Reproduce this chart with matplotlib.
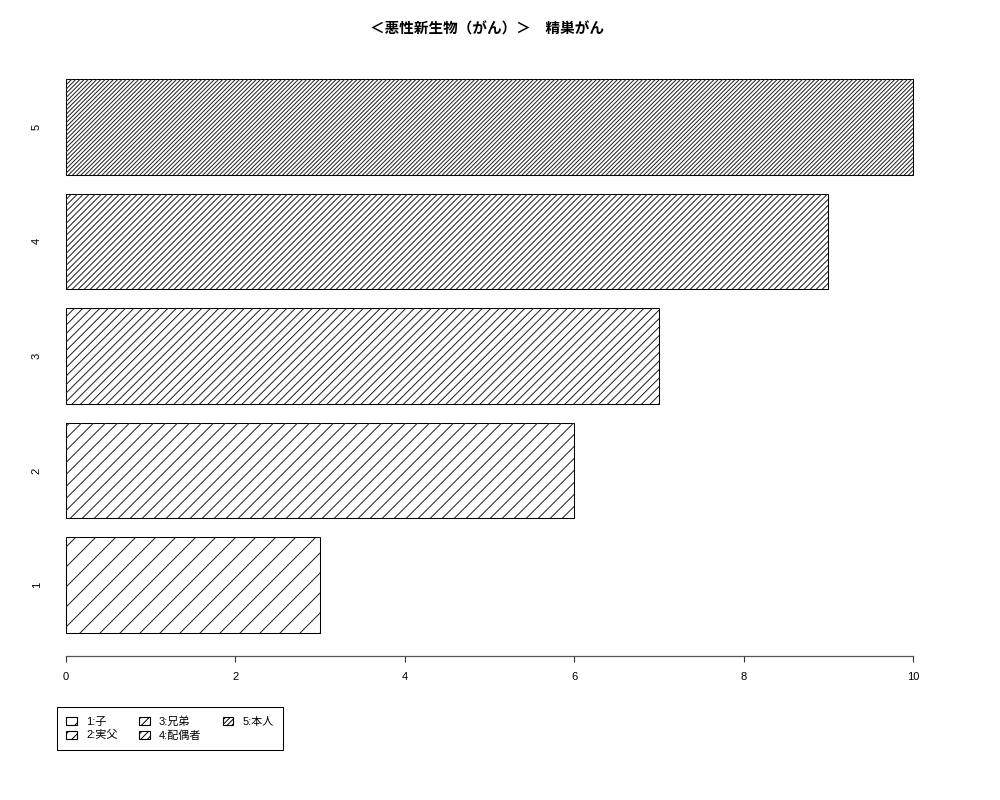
import matplotlib
matplotlib.use('Agg')
import matplotlib.pyplot as plt
from matplotlib.patches import Patch
from matplotlib.collections import LineCollection
from matplotlib.transforms import IdentityTransform
import numpy as np

plt.rcParams['font.family'] = ['Liberation Sans', 'Noto Sans CJK JP', 'DejaVu Sans']
plt.rcParams['hatch.linewidth'] = 0.7

# ---- data ----
categories = ['1', '2', '3', '4', '5']
values = [3, 6, 7, 9, 10]
legend_labels = ['1:子', '2:実父', '3:兄弟', '4:配偶者', '5:本人']
x_ticks = [0, 2, 4, 6, 8, 10]
title = '＜悪性新生物（がん）＞　精巣がん'

# ---- style ----
hatch_spacing_px = [20, 12, 8.5, 6, 4.2]
legend_hatches = ['//', '///', '////', '/////', '///////']

W, H, DPI = 1000, 800, 100
fig = plt.figure(figsize=(W / DPI, H / DPI), dpi=DPI)
ax = fig.add_axes([32 / W, 1 - 656 / H, (947 - 32) / W, 600 / H])

centers = [0.7 + 1.2 * i for i in range(len(values))]
ax.set_xlim(-0.4, 10.4)
ax.set_ylim(-0.0408, 6.2408)

bars = ax.barh(centers, values, height=1.0, left=0, color='white',
               edgecolor='black', linewidth=0.75, zorder=2)

# R-style density hatching: 45-degree lines in device space, clipped to bars
for bar, s in zip(bars, hatch_spacing_px):
    x0 = bar.get_x(); y0 = bar.get_y()
    x1 = x0 + bar.get_width(); y1 = y0 + bar.get_height()
    (px0, py0), (px1, py1) = ax.transData.transform([(x0, y0), (x1, y1)])
    cmin = py0 - px1
    cmax = py1 - px0
    cs = np.arange(cmin, cmax + s, s)
    segs = [[(py0 - c - 2, py0 - 2), (py1 - c + 2, py1 + 2)] for c in cs]
    lc = LineCollection(segs, colors='#222222', linewidths=0.72,
                        transform=IdentityTransform(), zorder=3)
    ax.add_collection(lc, autolim=False)
    lc.set_clip_path(bar)

# axes styling
for sp in ['top', 'right', 'left']:
    ax.spines[sp].set_visible(False)
ax.spines['bottom'].set_bounds(0, 10)
ax.spines['bottom'].set_color('#555555')
ax.spines['bottom'].set_linewidth(0.9)
ax.set_xticks(x_ticks)
ax.set_xticklabels([str(t) for t in x_ticks], fontsize=8)
ax.tick_params(axis='x', length=4.3, width=0.8, color='#333333', pad=7)
ax.set_yticks(centers)
ax.set_yticklabels(categories, fontsize=8, rotation=90, va='center')
ax.tick_params(axis='y', length=0, pad=-7)

fig.text(487 / W, 1 - 29 / H, title, ha='center', va='center',
         fontsize=10.5, fontweight='bold')

handles = [Patch(facecolor='white', edgecolor='black', hatch=h, linewidth=0.8)
           for h in legend_hatches]
leg = fig.legend(handles, legend_labels, ncol=3, loc='upper left',
                 bbox_to_anchor=(57 / W, 1 - 707 / H), borderaxespad=0,
                 fontsize=8, frameon=True, fancybox=False, framealpha=1,
                 edgecolor='black', handlelength=0.95, handleheight=0.75,
                 handletextpad=0.85, columnspacing=1.9, labelspacing=0.3,
                 borderpad=0.85)
leg.get_frame().set_linewidth(0.75)

fig.savefig('out.png', dpi=DPI)
